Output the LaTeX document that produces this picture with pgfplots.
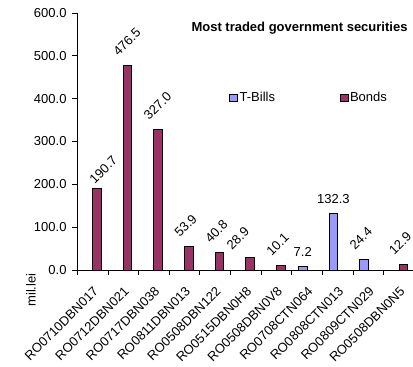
\documentclass[border=0pt]{standalone}
\usepackage{pgfplots}
\pgfplotsset{compat=1.18}
\usepackage{fontspec}
\setmainfont{Liberation Sans}
\definecolor{bonds}{HTML}{993366}
\definecolor{tbills}{HTML}{9999FF}
\newcommand\fs{\fontsize{13bp}{15.6bp}\selectfont}
\begin{document}
\begin{tikzpicture}[font=\fs]
\begin{axis}[
  x=30.64bp, y=0.42833bp,
  xmin=-0.5, xmax=10.5, ymin=0, ymax=600,
  enlargelimits=false, clip=false,
  axis x line*=bottom, axis y line*=left,
  axis line style={line width=0.8bp, black},
  every tick/.style={line width=0.8bp, black},
  ybar, bar width=8.6bp,
  /pgf/number format/assume math mode=true,
  ytick={0,100,...,600},
  yticklabel style={/pgf/number format/fixed,/pgf/number format/fixed zerofill,/pgf/number format/precision=1, inner sep=0pt, xshift=-5.6bp, font=\fs},
  tick align=outside, major tick length=5bp, minor tick length=5bp,
  xtick={0,...,10},
  xticklabels={RO0710DBN017,RO0712DBN021,RO0717DBN038,RO0811DBN013,RO0508DBN122,RO0515DBN0H8,RO0508DBN0V8,RO0708CTN064,RO0808CTN013,RO0809CTN029,RO0508DBN0N5},
  minor xtick={-0.5,0.5,...,9.5},
  major x tick style={draw=none},
  xticklabel shift=11bp,
  xticklabel style={rotate=45, anchor=north east, inner sep=0pt, outer sep=0pt, font=\fs},
  nodes near coords={\pgfmathprintnumber[fixed,fixed zerofill,precision=1]{\pgfplotspointmeta}},
  rot/.style 2 args={every node near coord/.append style={inner xsep=#1, inner ysep=#2, outer sep=0pt, anchor=south west, rotate=45, font=\fs, black}},
  hor/.style={every node near coord/.append style={inner sep=0pt, outer sep=0pt, anchor=base, yshift=10bp, font=\fs, black}},
  sq/.style={legend image code/.code={\draw[##1, draw=black, line width=1bp] (0bp,-3.5bp) rectangle (8bp,3.5bp);}},
  legend style={draw=none, fill=none, at={(0.45,0.671)}, anchor=west, legend columns=2,
    /tikz/every even column/.append style={column sep=63bp}, font=\fs, inner sep=0pt,
    nodes={inner sep=1.5bp}},
]
\addplot[fill=tbills, draw=black, line width=1bp, bar shift=-4.4bp, sq, rot={0pt}{12.7bp}] coordinates {(9,24.4)};
\addlegendentry{T-Bills}
\addplot[fill=tbills, draw=black, line width=1bp, bar shift=-4.4bp, hor, forget plot] coordinates {(7,7.2) (8,132.3)};
\addplot[fill=bonds, draw=black, line width=1bp, bar shift=4.4bp, sq, rot={0pt}{12.7bp}] coordinates {(1,476.5) (2,327.0) (3,53.9) (4,40.8) (6,10.1) (10,12.9)};
\addlegendentry{Bonds}
\addplot[fill=bonds, draw=black, line width=1bp, bar shift=4.4bp, forget plot, rot={1.4bp}{4.2bp}] coordinates {(0,190.7)};
\addplot[fill=bonds, draw=black, line width=1bp, bar shift=4.4bp, forget plot, rot={-7.8bp}{17.7bp}] coordinates {(5,28.9)};
\coordinate (O) at (axis cs:-0.5,0);
\end{axis}
\node[font=\bfseries\fs] at ([shift={(222.2bp,241.5bp)}]O) {Most traded government securities};
\node[rotate=90] at ([shift={(-46.3bp,-20bp)}]O) {mil.lei};
\pgfresetboundingbox
\path ([shift={(-77.3bp,-97bp)}]O) rectangle ([shift={(335.7bp,270bp)}]O);
\end{tikzpicture}
\end{document}
